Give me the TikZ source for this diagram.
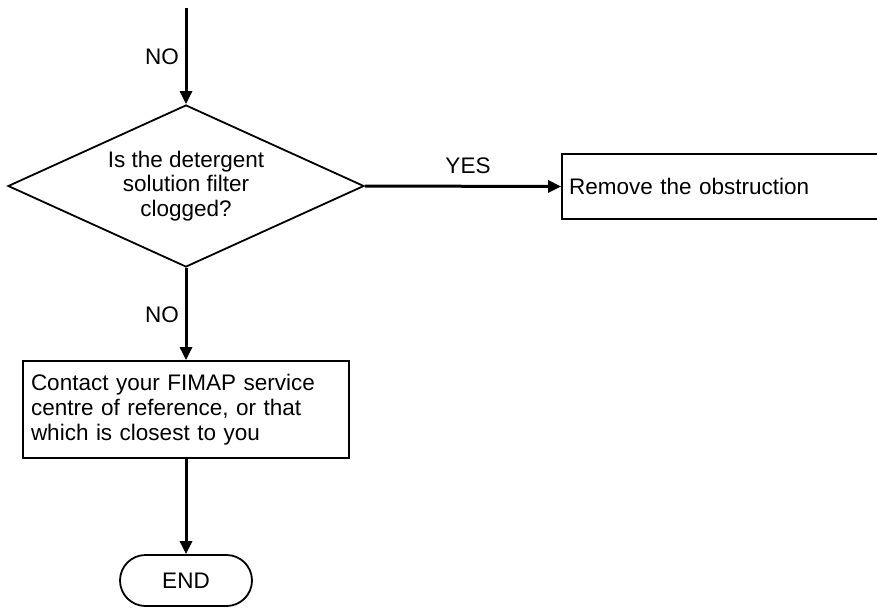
\documentclass[tikz,border=0pt]{standalone}
\usepackage{fontspec}
\setmainfont{Liberation Sans}
\usetikzlibrary{arrows.meta,shapes.geometric,shapes.misc}
\begin{document}
\begin{tikzpicture}[x=1pt,y=-1pt,
  txt/.style={font=\fontsize{22.5}{24.8}\selectfont},
  flow/.style={line width=3pt,-{Triangle[length=13pt,width=12pt]}},
  decision/.style={txt,draw,line width=1.8pt,shape=diamond,aspect=2.2,inner sep=0pt,
     minimum width=356pt,minimum height=162pt,align=center},
  procbox/.style={txt,draw,line width=1.8pt,rectangle,inner xsep=7pt,inner ysep=0pt,align=left},
  term/.style={txt,draw,line width=1.8pt,rounded rectangle,inner sep=0pt,minimum width=132pt,minimum height=51pt},
  lbl/.style={txt,inner sep=0pt}]
\useasboundingbox (0,0) rectangle (877,608);
\clip (0,0) rectangle (877,608);
\coordinate (start) at (186,8);
\node[decision] (dec) at (186,186) {Is the detergent\\solution filter\\clogged?};
\node[procbox,minimum width=318pt,minimum height=65pt,text width=304pt] (rem) at (721,186.5) {Remove the obstruction};
\node[procbox,minimum width=326pt,minimum height=97pt,text width=310pt,inner xsep=8pt] (contact) at (186,409.5)
  {Contact your FIMAP service\\centre of reference, or that\\which is closest to you};
\node[term] (end) at (186,580.5) {END};
\draw[flow] (start) -- (dec.north);
\draw[flow] (dec.east) -- (rem.west);
\draw[flow] (dec.south) -- (contact.north);
\draw[flow] (contact.south) -- (end.north);
\node[lbl] (no1) at (162,57) {NO};
\node[lbl] (yes) at (468,166) {YES};
\node[lbl] (no2) at (162,315) {NO};
\end{tikzpicture}
\end{document}
